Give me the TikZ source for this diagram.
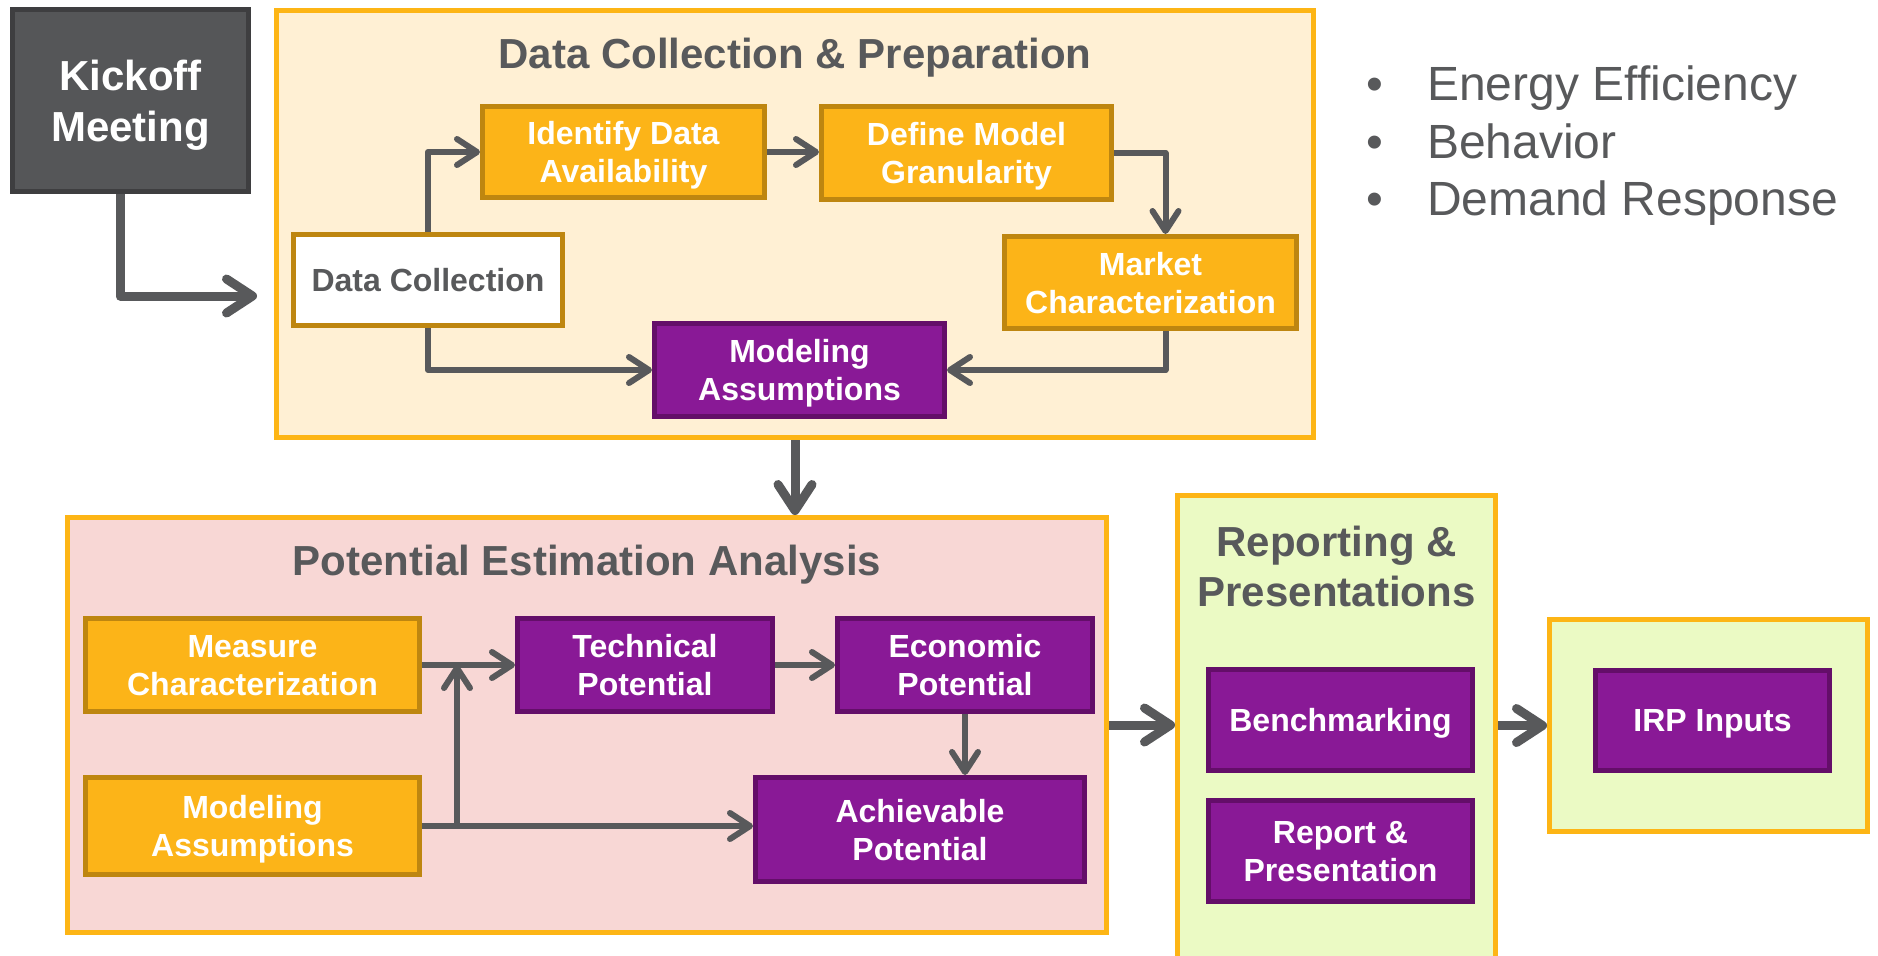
\documentclass[tikz,border=0pt]{standalone}
\usepackage{fontspec}
\setmainfont{Liberation Sans}
\usetikzlibrary{arrows.meta}

\definecolor{ink}{RGB}{88,89,91}
\definecolor{yfill}{RGB}{252,180,24}
\definecolor{yline}{RGB}{190,134,16}
\definecolor{pfill}{RGB}{137,25,150}
\definecolor{pline}{RGB}{100,14,105}
\definecolor{panelline}{RGB}{253,181,21}
\definecolor{dcfill}{RGB}{255,240,212}
\definecolor{pefill}{RGB}{248,215,213}
\definecolor{repfill}{RGB}{235,250,196}
\definecolor{kfill}{RGB}{85,86,88}
\definecolor{kline}{RGB}{62,62,64}

\newcommand{\bul}{\llap{\textbullet\hspace{22pt}}}

\begin{document}
\begin{tikzpicture}[x=0.5pt,y=-0.5pt,
  panel/.style={draw=panelline,line width=2.5pt,inner sep=0pt},
  box/.style={line width=2.5pt,inner sep=0pt,text depth=-1pt,align=center,text=white,font=\bfseries\fontsize{16}{19}\selectfont},
  ybox/.style={box,draw=yline,fill=yfill},
  pbox/.style={box,draw=pline,fill=pfill},
  flow/.style={draw=ink,line width=3pt,line join=round,-{Straight Barb[round,length=10pt,width=13pt]}},
  bigflow/.style={flow,line width=4.5pt,-{Straight Barb[round,length=13pt,width=17pt]}},
  ttl/.style={text=ink,align=center,font=\bfseries\fontsize{21}{25}\selectfont},
  blt/.style={text=ink,font=\fontsize{24}{28}\selectfont}]
  \useasboundingbox (0,0) rectangle (1878,955);
  \clip (0,0) rectangle (1878,955);

  % panels
  \node[panel,fill=dcfill,minimum width=518.5pt,minimum height=213.5pt] (dc) at (795,224) {};
  \node[panel,fill=pefill,minimum width=519.5pt,minimum height=207.5pt] (pe) at (587,725) {};
  \node[panel,fill=repfill,minimum width=159pt,minimum height=238.5pt] (rep) at (1336.5,734) {};
  \node[panel,fill=repfill,minimum width=159pt,minimum height=106pt] (irp) at (1708.5,725.5) {};

  \node[ttl,anchor=base] (dct) at (795,68) {Data Collection \& Preparation};
  \node[ttl,anchor=base] (pet) at (587,575) {Potential Estimation Analysis};
  \node[ttl] (rept) at (1336.5,566) {Reporting \&\\Presentations};

  \node[box,draw=kline,fill=kfill,text depth=-2pt,font=\bfseries\fontsize{21}{25.5}\selectfont,minimum width=118pt,minimum height=91pt] (kick) at (130.5,100.5) {Kickoff\\Meeting};

  % data collection
  \node[box,draw=yline,fill=white,text=ink,minimum width=134.5pt,minimum height=45.5pt] (dcol) at (428,280) {Data Collection};
  \node[ybox,minimum width=141pt,minimum height=45.5pt] (ida) at (623.5,152) {Identify Data\\Availability};
  \node[ybox,minimum width=145pt,minimum height=46.5pt] (dmg) at (966.5,153) {Define Model\\Granularity};
  \node[ybox,minimum width=146pt,minimum height=46pt] (mkt) at (1150.5,282.5) {Market\\Characterization};
  \node[pbox,minimum width=145pt,minimum height=46.5pt] (ma1) at (799.5,370) {Modeling\\Assumptions};

  % potential estimation
  \node[ybox,minimum width=167pt,minimum height=46.5pt] (mc) at (252.5,665) {Measure\\Characterization};
  \node[ybox,minimum width=167pt,minimum height=48.5pt] (ma2) at (252.5,826) {Modeling\\Assumptions};
  \node[pbox,minimum width=127.5pt,minimum height=46.5pt] (tp) at (645,665) {Technical\\Potential};
  \node[pbox,minimum width=127.5pt,minimum height=46.5pt] (ep) at (965,665) {Economic\\Potential};
  \node[pbox,minimum width=164.5pt,minimum height=52pt] (ach) at (920,829.5) {Achievable\\Potential};

  % reporting
  \node[pbox,minimum width=132pt,minimum height=50.5pt] (bm) at (1340.5,720) {Benchmarking};
  \node[pbox,minimum width=132pt,minimum height=50.5pt] (rp) at (1340.5,851) {Report \&\\Presentation};
  \node[pbox,minimum width=117pt,minimum height=50pt] (irpin) at (1712.5,720.5) {IRP Inputs};

  \node[blt,anchor=base west] (b1) at (1420,100) {\bul Energy Efficiency};
  \node[blt,anchor=base west] (b2) at (1420,158) {\bul Behavior};
  \node[blt,anchor=base west] (b3) at (1420,215) {\bul Demand Response};

  % connectors
  \coordinate (kend) at (257,296);
  \draw[bigflow] ([xshift=-5.25pt]kick.south) |- (kend);
  \draw[flow] (dcol.north) |- (ida.west);
  \draw[flow] (ida.east) -- (ida.east -| dmg.west);
  \draw[flow] (dmg.east) -| ([xshift=7.5pt]mkt.north);
  \draw[flow] ([xshift=7.5pt]mkt.south) |- (ma1.east);
  \draw[flow] (dcol.south) |- (ma1.west);
  \draw[bigflow] (dc.south) -- (dc.south |- pe.north);

  \draw[flow] (mc.east) -- (tp.west);
  \draw[flow] (tp.east) -- (ep.west);
  \draw[flow] (ep.south) -- (ep.south |- ach.north);
  \draw[flow] (ma2.east) -- (ma2.east -| ach.west);
  \path (ma2.east) ++(35,0) coordinate (jn);
  \draw[flow] (jn) -- (jn |- mc.east);

  \draw[bigflow] (pe.east) -- (pe.east -| rep.west);
  \draw[bigflow] (irp.west -| rep.east) -- (irp.west);
\end{tikzpicture}
\end{document}
